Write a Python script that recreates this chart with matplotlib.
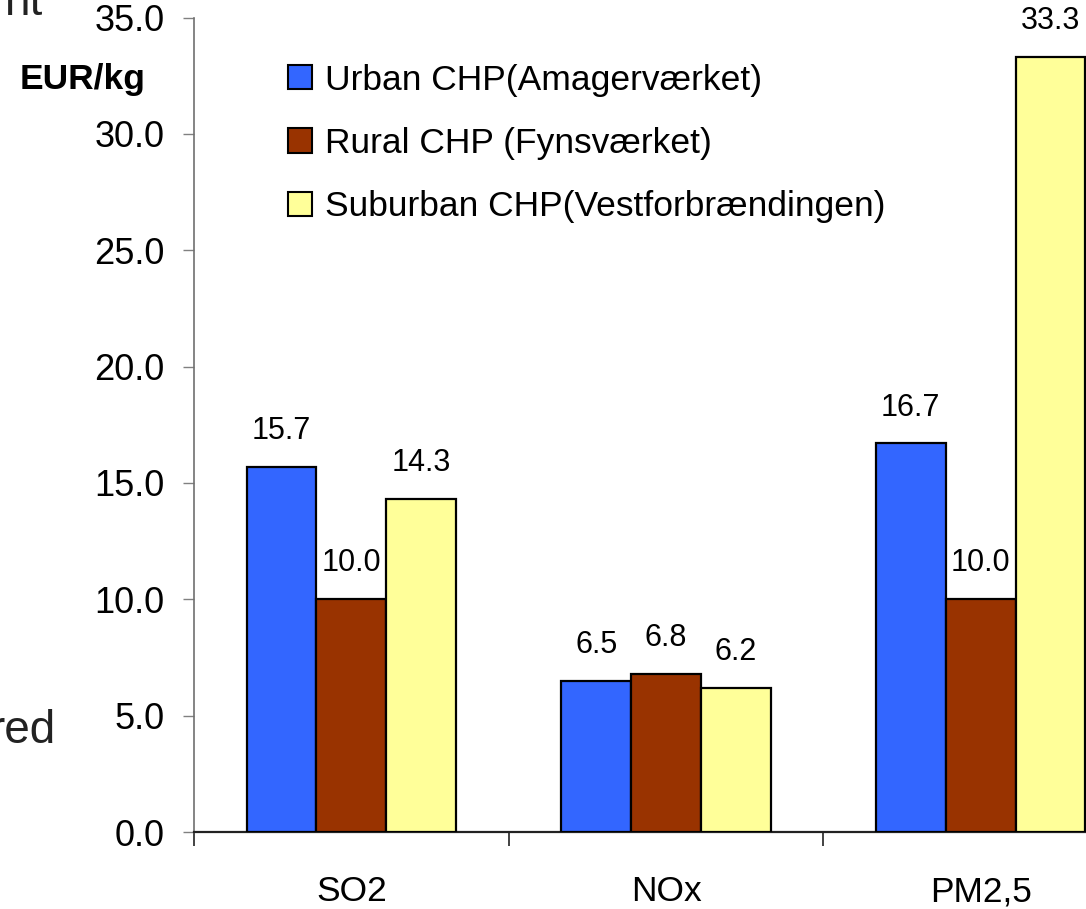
import matplotlib
matplotlib.use("Agg")
import matplotlib.pyplot as plt
from matplotlib.patches import Patch
import numpy as np

plt.rcParams['font.family'] = ['Liberation Sans', 'DejaVu Sans']

categories = ["SO2", "NOx", "PM2,5"]
series_names = ["Urban CHP(Amagerværket)", "Rural CHP (Fynsværket)", "Suburban CHP(Vestforbrændingen)"]
urban = [15.7, 6.5, 16.7]
rural = [10.0, 6.8, 10.0]
suburban = [14.3, 6.2, 33.3]
colors = ["#3366FF", "#993300", "#FFFF99"]
yticks = [0, 5, 10, 15, 20, 25, 30, 35]

W, H = 1086, 909
fig = plt.figure(figsize=(W / 100, H / 100), dpi=100)
ax = fig.add_axes([194 / W, (H - 832) / H, (1138 - 194) / W, (832 - 17.6) / H])

x = np.arange(len(categories))
bw = 0.222
for i, (vals, c) in enumerate(zip([urban, rural, suburban], colors)):
    pos = x + (i - 1) * bw
    ax.bar(pos, vals, width=bw, color=c, edgecolor="black", linewidth=1.6, zorder=3)
    for px, v in zip(pos, vals):
        ax.annotate(f"{v:.1f}", (px, v), xytext=(0, 15), textcoords="offset points",
                    ha="center", va="bottom", fontsize=22, color="black")

ax.set_xlim(-0.5, 2.5)
ax.set_ylim(0, 35)
ax.set_yticks(yticks)
ax.set_yticklabels([f"{t:.1f}" for t in yticks], fontsize=26)
ax.set_xticks(np.arange(-0.5, 3.0, 1.0))
ax.set_xticklabels([])
ax.set_xticks(x, minor=True)
ax.set_xticklabels(categories, minor=True, fontsize=25.5)
ax.tick_params(axis="x", which="minor", length=0, pad=31)
ax.tick_params(axis="x", which="major", length=10, width=1.2, color="#222222", direction="out")
ax.tick_params(axis="y", length=8, width=1.0, color="#808080", pad=13)

for s in ["top", "right"]:
    ax.spines[s].set_visible(False)
ax.spines["left"].set_color("#707070")
ax.spines["left"].set_linewidth(1.2)
ax.spines["bottom"].set_color("#222222")
ax.spines["bottom"].set_linewidth(1.6)

handles = [Patch(facecolor=c, edgecolor="black", linewidth=1.5) for c in colors]
leg = ax.legend(handles, series_names, loc="upper left", bbox_to_anchor=(0.0845, 0.961),
                frameon=False, fontsize=25.5, handlelength=0.68, handleheight=0.68,
                handletextpad=0.37, labelspacing=0.86, borderaxespad=0)

fig.text(145 / W, 1 - 80 / H, "EUR/kg", ha="right", va="center", fontsize=25.5, fontweight="bold")
fig.text(42 / W, 1 - 15 / H, "nt", ha="right", va="baseline", fontsize=33, color="#222222")
fig.text(56 / W, 1 - 743 / H, "red", ha="right", va="baseline", fontsize=33, color="#222222")

fig.savefig("out.png", dpi=100)
